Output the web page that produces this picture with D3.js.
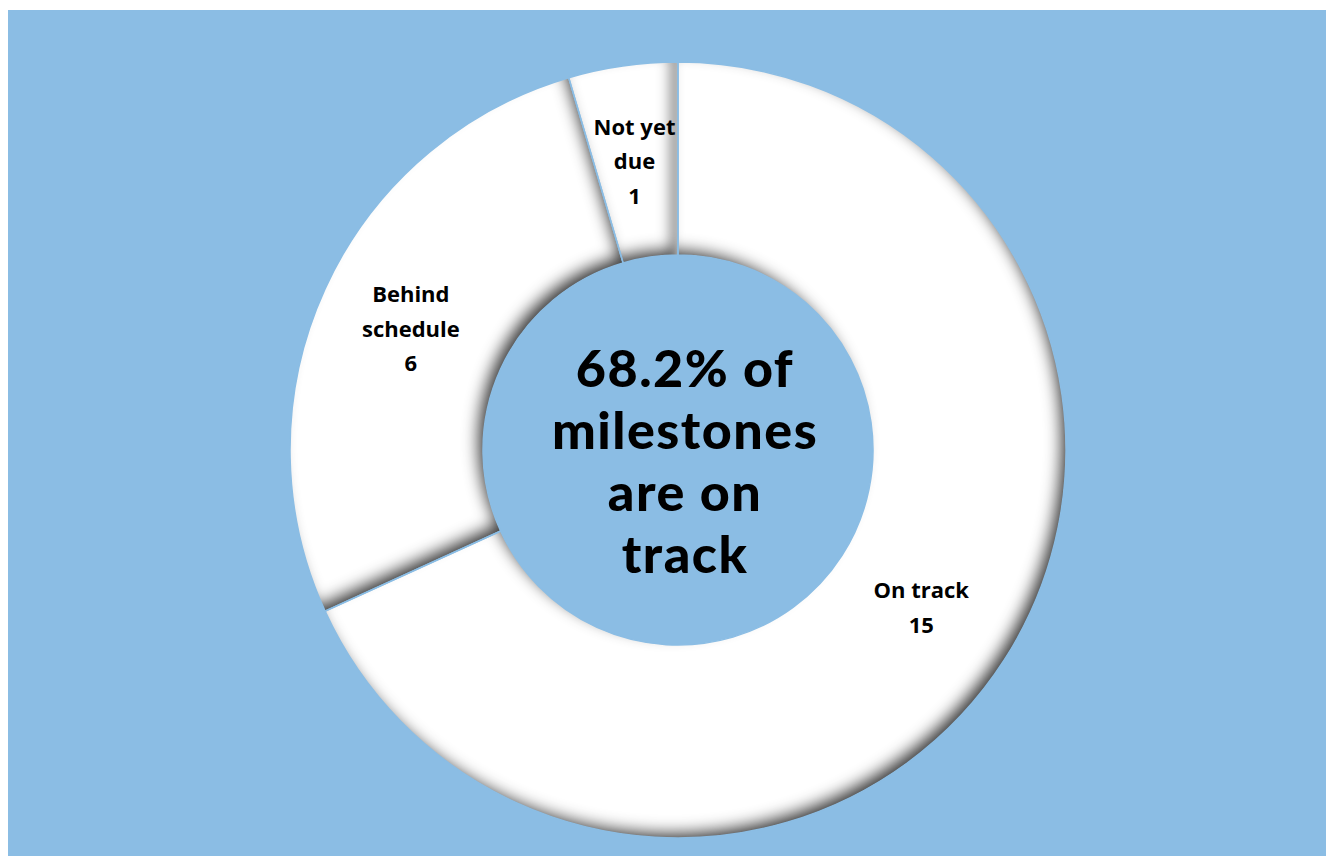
<!DOCTYPE html>
<html>
<head>
<meta charset="utf-8">
<script src="https://cdn.jsdelivr.net/npm/d3@7"></script>
<style>
	html, body { margin: 0; padding: 0; background: #ffffff; }
	svg { display: block; }
</style>
</head>
<body>
<svg id="vis" width="1326" height="856"></svg>
<script>
// milestone status counts
const categories = ["On track", "Behind schedule", "Not yet due"];
const values = [15, 6, 1];
const labelLines = [["On track"], ["Behind", "schedule"], ["Not yet", "due"]];
const centerLines = ["68.2% of", "milestones", "are on", "track"];

const width = 1326, height = 856;
const cx = 678, cy = 450;
const outerR = 388, innerR = 195;
const bg = "#8bbde4";

const svg = d3.select("svg#vis");

// blue panel, white strip on left/top
svg.append("rect")
	.attr("x", 8).attr("y", 10)
	.attr("width", width - 8).attr("height", height - 10)
	.attr("fill", bg);

// inner bevel shadow for the slices
const defs = svg.append("defs");
const f = defs.append("filter")
	.attr("id", "bevel")
	.attr("x", "-10%").attr("y", "-10%")
	.attr("width", "120%").attr("height", "120%");
f.append("feComponentTransfer").attr("in", "SourceAlpha").attr("result", "inv")
	.append("feFuncA").attr("type", "table").attr("tableValues", "1 0");
f.append("feGaussianBlur").attr("in", "inv").attr("stdDeviation", 7).attr("result", "blur");
f.append("feOffset").attr("in", "blur").attr("dx", -8).attr("dy", -8).attr("result", "off");
f.append("feFlood").attr("flood-color", "#444444").attr("flood-opacity", 1).attr("result", "col");
f.append("feComposite").attr("in", "col").attr("in2", "off").attr("operator", "in").attr("result", "sh");
f.append("feComposite").attr("in", "sh").attr("in2", "SourceAlpha").attr("operator", "in").attr("result", "inner");
const merge = f.append("feMerge");
merge.append("feMergeNode").attr("in", "SourceGraphic");
merge.append("feMergeNode").attr("in", "inner");

const pie = d3.pie().sort(null).value(d => d);
const arcs = pie(values);

const arc = d3.arc().innerRadius(innerR).outerRadius(outerR);
const labelArc = d3.arc().innerRadius((innerR + outerR) / 2).outerRadius((innerR + outerR) / 2);

const g = svg.append("g").attr("transform", `translate(${cx},${cy})`);

g.selectAll("path.slice")
	.data(arcs)
	.enter()
	.append("path")
	.attr("class", "slice")
	.attr("d", arc)
	.attr("fill", "#ffffff")
	.attr("filter", "url(#bevel)");

// thin separators between slices
g.selectAll("path.sep")
	.data(arcs)
	.enter()
	.append("path")
	.attr("class", "sep")
	.attr("d", arc)
	.attr("fill", "none")
	.attr("stroke", bg)
	.attr("stroke-width", 1.5);

// slice labels
const lineH = 34.5;
const labels = g.selectAll("text.label")
	.data(arcs)
	.enter()
	.append("text")
	.attr("class", "label")
	.attr("text-anchor", "middle")
	.attr("font-family", "'Open Sans', Lato, sans-serif")
	.attr("font-weight", 700)
	.attr("font-size", 22)
	.attr("fill", "#000");

labels.each(function(d, i) {
	const lines = labelLines[i].concat([String(values[i])]);
	const c = labelArc.centroid(d);
	const t = d3.select(this);
	lines.forEach((s, j) => {
		t.append("tspan")
			.attr("x", c[0] - 2)
			.attr("y", c[1] + (j - (lines.length - 1) / 2) * lineH)
			.attr("dy", "0.35em")
			.text(s);
	});
});

// centre text
const ct = g.append("text")
	.attr("text-anchor", "middle")
	.attr("font-family", "Lato, sans-serif")
	.attr("font-weight", 900)
	.attr("font-size", 52)
	.attr("letter-spacing", 1.5)
	.attr("fill", "#000");
centerLines.forEach((s, j) => {
	ct.append("tspan")
		.attr("x", 7)
		.attr("y", -63 + (j - 1) * 62 + 62)
		.text(s);
});
</script>
</body>
</html>
